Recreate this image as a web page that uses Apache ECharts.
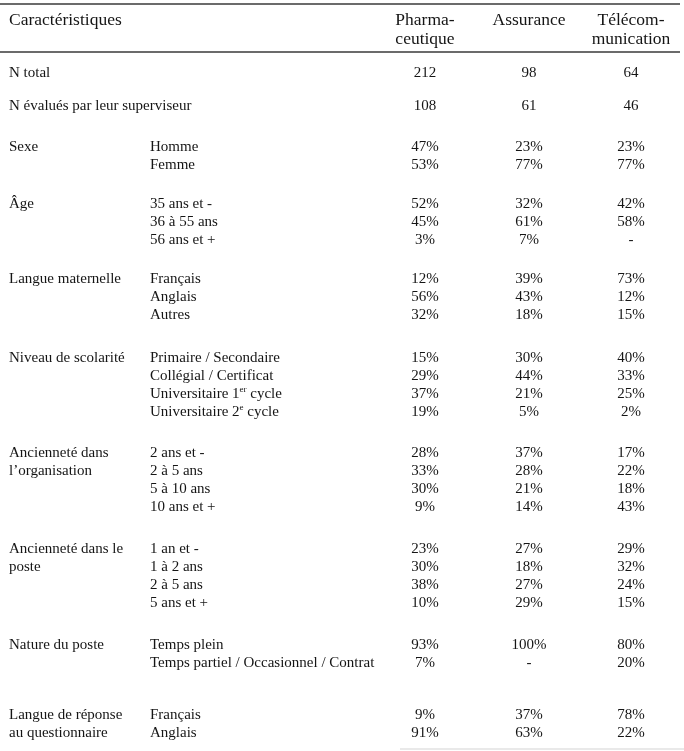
<!DOCTYPE html>
<html><head><meta charset="utf-8">
<script src="https://cdn.jsdelivr.net/npm/echarts@6/dist/echarts.min.js"></script>
<style>html,body{margin:0;padding:0;background:#fff}#c{width:684px;height:751px}</style>
</head><body><div id="c"></div>
<script>
// ---------- DATA ----------
const firstHeader = 'Caractéristiques';
const columnHeaders = ['Pharma-\nceutique', 'Assurance', 'Télécom-\nmunication'];
const groups = [
  'N total',
  'N évalués par leur superviseur',
  'Sexe',
  'Âge',
  'Langue maternelle',
  'Niveau de scolarité',
  'Ancienneté dans\nl’organisation',
  'Ancienneté dans le\nposte',
  'Nature du poste',
  'Langue de réponse\nau questionnaire'
];
const subcategories = [
  [''],
  [''],
  ['Homme', 'Femme'],
  ['35 ans et -', '36 à 55 ans', '56 ans et +'],
  ['Français', 'Anglais', 'Autres'],
  ['Primaire / Secondaire', 'Collégial / Certificat', 'Universitaire 1{sup|er} cycle', 'Universitaire 2{sup|e} cycle'],
  ['2 ans et -', '2 à 5 ans', '5 à 10 ans', '10 ans et +'],
  ['1 an et -', '1 à 2 ans', '2 à 5 ans', '5 ans et +'],
  ['Temps plein', 'Temps partiel / Occasionnel / Contrat'],
  ['Français', 'Anglais']
];
const isCount = [true, true, false, false, false, false, false, false, false, false];
const pharma = [[212], [108], [47, 53], [52, 45, 3], [12, 56, 32], [15, 29, 37, 19], [28, 33, 30, 9], [23, 30, 38, 10], [93, 7], [9, 91]];
const assurance = [[98], [61], [23, 77], [32, 61, 7], [39, 43, 18], [30, 44, 21, 5], [37, 28, 21, 14], [27, 18, 27, 29], [100, null], [37, 63]];
const telecom = [[64], [46], [23, 77], [42, 58, null], [73, 12, 15], [40, 33, 25, 2], [17, 22, 18, 43], [29, 32, 24, 15], [80, 20], [78, 22]];
const valueColumns = [pharma, assurance, telecom];

// ---------- LAYOUT ----------
const W = 684, H = 751;
const FONT = '"Liberation Serif", "Times New Roman", serif';
const TEXT = '#151515';
const colGroupX = 9, colSubX = 150, colValueX = [425, 529, 631];
const headerY = 20, headerStep = 19, lineStep = 18, headerSize = 17.5, bodySize = 15;
const ruleY = [4, 52];
const bodyTop = 73;
const gapLines = [0, 1.85, 2.25, 2.2, 2.15, 2.4, 2.25, 2.35, 2.35, 2.85];

// row positions
const groupRowY = [];
let y = bodyTop;
groups.forEach((g, gi) => {
  if (gi > 0) y += gapLines[gi] * lineStep;
  const rows = [];
  subcategories[gi].forEach((s, si) => { if (si > 0) y += lineStep; rows.push(y); });
  groupRowY.push(rows);
});

// text items: [x, y, text, align, size, lineHeight]
const texts = [];
texts.push([colGroupX, headerY, firstHeader, 'left', headerSize, headerStep]);
columnHeaders.forEach((h, i) => texts.push([colValueX[i], headerY, h, 'center', headerSize, headerStep]));
groups.forEach((g, gi) => {
  texts.push([colGroupX, groupRowY[gi][0], g, 'left', bodySize, lineStep]);
  subcategories[gi].forEach((s, si) => {
    if (s) texts.push([colSubX, groupRowY[gi][si], s, 'left', bodySize, lineStep]);
    valueColumns.forEach((col, ci) => {
      const v = col[gi][si];
      const t = v == null ? '-' : (isCount[gi] ? String(v) : v + '%');
      texts.push([colValueX[ci], groupRowY[gi][si], t, 'center', bodySize, lineStep]);
    });
  });
});

const rules = [[0, 680, ruleY[0], '#3a3a3a', 1.4], [0, 680, ruleY[1], '#3a3a3a', 1.4], [400, 684, 749, '#e2e2e2', 1.5]];

const chart = echarts.init(document.getElementById('c'), null, { renderer: 'canvas' });
chart.setOption({
  animation: false,
  backgroundColor: '#fff',
  grid: { left: 0, right: 0, top: 0, bottom: 0 },
  xAxis: { type: 'value', min: 0, max: W, show: false },
  yAxis: { type: 'value', min: 0, max: H, inverse: true, show: false },
  series: [
    {
      type: 'custom',
      data: rules.map((r, i) => [r[0], r[1], r[2], i]),
      renderItem: (params, api) => {
        const r = rules[api.value(3)];
        const a = api.coord([api.value(0), api.value(2)]);
        const b = api.coord([api.value(1), api.value(2)]);
        return { type: 'line', shape: { x1: a[0], y1: a[1], x2: b[0], y2: b[1] }, style: { stroke: r[3], lineWidth: r[4] } };
      }
    },
    {
      type: 'custom',
      data: texts.map((t, i) => [t[0], t[1], i]),
      renderItem: (params, api) => {
        const t = texts[api.value(2)];
        const p = api.coord([api.value(0), api.value(1)]);
        return {
          type: 'text',
          x: p[0], y: p[1] - t[5] / 2,
          style: {
            text: t[2], fill: TEXT, fontFamily: FONT, fontSize: t[4],
            align: t[3], verticalAlign: 'top', lineHeight: t[5],
            rich: { sup: { fontSize: 9, verticalAlign: 'top', lineHeight: 14, fill: TEXT, fontFamily: FONT } }
          }
        };
      }
    }
  ]
});
</script></body></html>
